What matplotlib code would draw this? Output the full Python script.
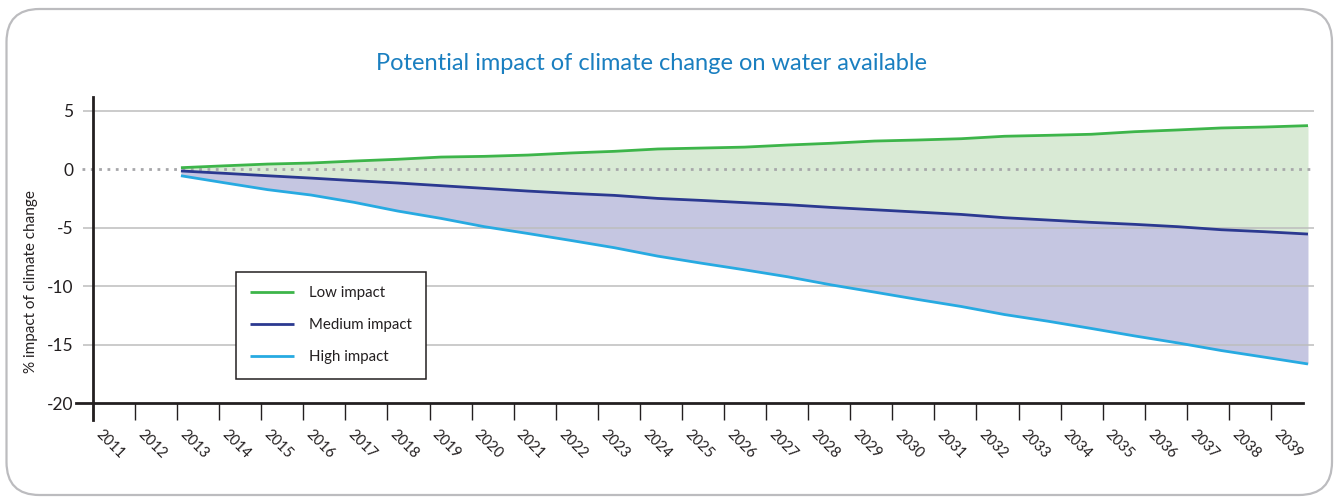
import numpy as np
import matplotlib
matplotlib.use("Agg")
import matplotlib.pyplot as plt
from matplotlib.patches import FancyBboxPatch

# ---- data -------------------------------------------------------------
tick_years = list(range(2011, 2040))
data_years = list(range(2013, 2040))

low_impact = [0.14, 0.30, 0.45, 0.54, 0.71, 0.86, 1.05, 1.11, 1.22, 1.40,
              1.54, 1.74, 1.82, 1.90, 2.08, 2.23, 2.42, 2.51, 2.62, 2.83,
              2.91, 3.00, 3.22, 3.37, 3.54, 3.62, 3.74]
medium_impact = [-0.14, -0.34, -0.55, -0.75, -0.97, -1.17, -1.40, -1.63, -1.86,
                 -2.06, -2.23, -2.49, -2.66, -2.85, -3.03, -3.26, -3.46, -3.66,
                 -3.86, -4.14, -4.34, -4.54, -4.71, -4.91, -5.17, -5.34, -5.54]
high_impact = [-0.55, -1.15, -1.74, -2.20, -2.83, -3.57, -4.20, -4.91, -5.49,
               -6.09, -6.71, -7.43, -8.03, -8.60, -9.20, -9.89, -10.51, -11.14,
               -11.74, -12.43, -13.00, -13.62, -14.26, -14.86, -15.51, -16.08,
               -16.66]
y_ticks = [5, 0, -5, -10, -15, -20]
series_labels = ["Low impact", "Medium impact", "High impact"]

# ---- style ------------------------------------------------------------
FONT = ["Lato", "DejaVu Sans"]
plt.rcParams["font.family"] = FONT
TEXT = "#231f20"
GREEN = "#3db54a"
NAVY = "#2b3990"
CYAN = "#27aae1"
GREEN_FILL = "#d9ead5"
PURPLE_FILL = "#c5c6e1"
GRID = "#bdbdbd"

W, H = 1336, 498
fig = plt.figure(figsize=(W / 100, H / 100), dpi=100)

# rounded outer frame
frame = FancyBboxPatch((0.065, 0.03), 13.255, 4.86,
                       boxstyle="round,pad=0,rounding_size=0.33",
                       transform=fig.dpi_scale_trans, facecolor="none",
                       edgecolor="#bcbcbf", linewidth=1.6, zorder=-1)
fig.patches.append(frame)

ax_left, ax_right, ax_top, ax_bottom = 93, 1314, 97, 403
ax = fig.add_axes([ax_left / W, (H - ax_bottom) / H,
                   (ax_right - ax_left) / W, (ax_bottom - ax_top) / H])
ax.set_facecolor("none")
ax.set_zorder(2)

# category axis: ticks sit on integer slots, the series run on a slightly
# wider spacing starting just after the 2013 slot
slot_px = 42.07
n_slots = (ax_right - ax_left) / slot_px
x_data = np.linspace(2.09, 28.88, len(data_years))

ax.set_xlim(0, n_slots)
ax.set_ylim(-20, 6.19)

ax.fill_between(x_data, low_impact, medium_impact, color=GREEN_FILL,
                linewidth=0, zorder=1)
ax.fill_between(x_data, medium_impact, high_impact, color=PURPLE_FILL,
                linewidth=0, zorder=1)

# horizontal grid, extended a little to the left of the axis
for v in y_ticks:
    if v == -20:
        continue
    if v == 0:
        ax.hlines(v, -0.26, n_slots, colors="#a7a7aa", linewidth=2,
                  linestyles=(0, (1, 2)), clip_on=False, zorder=2)
    else:
        ax.hlines(v, -0.24, n_slots, colors=GRID, linewidth=1.1,
                  clip_on=False, zorder=2)

for vals, col, lab in zip([low_impact, medium_impact, high_impact],
                          [GREEN, NAVY, CYAN], series_labels):
    ax.plot(x_data, vals, color=col, linewidth=2.0, label=lab, zorder=3,
            solid_capstyle="butt")

# spines
for s in ["top", "right"]:
    ax.spines[s].set_visible(False)
ax.spines["left"].set_linewidth(2.0)
ax.spines["bottom"].set_linewidth(2.0)
ax.spines["left"].set_color(TEXT)
ax.spines["bottom"].set_color(TEXT)
ax.spines["bottom"].set_bounds(-0.41, (1303 - ax_left) / slot_px)
ax.spines["left"].set_bounds(-21.45, 6.19)

ax.set_yticks(y_ticks)
ax.set_yticklabels([str(v) for v in y_ticks])
ax.tick_params(axis="y", length=0, pad=14, labelsize=12.5, labelcolor=TEXT)

ax.set_xticks(range(len(tick_years)))
ax.set_xticklabels([str(y) for y in tick_years], rotation=-45,
                   ha="left", va="top")
ax.tick_params(axis="x", length=12.2, width=1.0, color=TEXT, pad=5,
               labelsize=10.5, labelcolor=TEXT, direction="out")

fig.text(31 / W, 1 - 282 / H, "% impact of climate change", rotation=90,
         ha="center", va="center", fontsize=11, color=TEXT)

fig.text(652 / W, 1 - 63 / H,
         "Potential impact of climate change on water available",
         ha="center", va="center", fontsize=17, color="#1a7fc0")

leg = ax.legend(loc="upper left", bbox_to_anchor=(236 / W, 1 - 272 / H),
                bbox_transform=fig.transFigure, borderaxespad=0,
                frameon=True, fancybox=False, framealpha=1,
                edgecolor=TEXT, fontsize=10.8, handlelength=2.9,
                handletextpad=1.0, labelspacing=1.2, borderpad=0.95)
leg.get_frame().set_linewidth(1.1)
for t in leg.get_texts():
    t.set_color(TEXT)
leg.set_zorder(5)

fig.savefig("out.png", dpi=100)
